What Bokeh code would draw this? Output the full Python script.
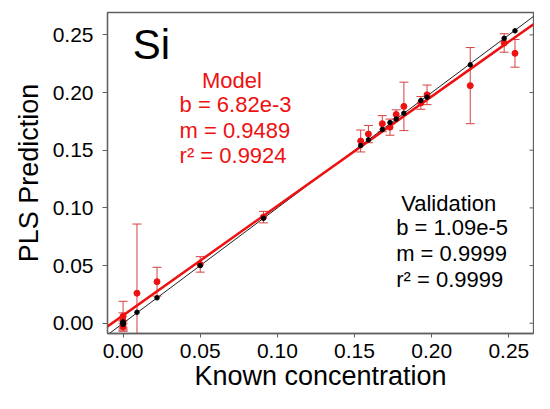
import math
from bokeh.plotting import figure
from bokeh.models import (Range1d, FixedTicker, NumeralTickFormatter,
                          Whisker, ColumnDataSource, TeeHead, Label)
from bokeh.embed import file_html
from bokeh.resources import INLINE

# ---- data ----
known = [0.000, 0.000, 0.000, 0.000, 0.009, 0.022, 0.050, 0.091, 0.154, 0.159,
         0.168, 0.173, 0.177, 0.182, 0.193, 0.197, 0.225, 0.247, 0.254]
model_pred = [0.006, 0.002, -0.001, -0.003, 0.026, 0.036, 0.051, 0.092, 0.158, 0.164,
              0.173, 0.170, 0.181, 0.188, 0.191, 0.198, 0.206, 0.243, 0.234]
model_err = [0.013, 0.007, 0.003, 0.003, 0.060, 0.0125, 0.0067, 0.005, 0.0095, 0.0075,
             0.007, 0.007, 0.004, 0.021, 0.0055, 0.0085, 0.033, 0.008, 0.012]
valid_pred = [0.001, 0.000, 0.001, -0.001, 0.0095, 0.022, 0.050, 0.091, 0.154, 0.159,
              0.168, 0.174, 0.177, 0.182, 0.193, 0.196, 0.224, 0.247, 0.2535]
tick_values = [0.00, 0.05, 0.10, 0.15, 0.20, 0.25]
model_b, model_m, model_r2 = 6.82e-3, 0.9489, 0.9924
valid_b, valid_m, valid_r2 = 1.09e-5, 0.9999, 0.9999
element = "Si"

FONT = "Liberation Sans"
RED = "#ee1111"
ERR = "#d44040"
FRAME = "#606060"

x0, x1 = -0.0101, 0.266
y0, y1 = -0.0089, 0.2694

p = figure(width=534, height=393, output_backend="svg", toolbar_location=None,
           x_range=Range1d(x0, x1), y_range=Range1d(y0, y1),
           min_border_left=107, min_border_right=1, min_border_top=12,
           min_border_bottom=58)
p.xgrid.visible = False
p.ygrid.visible = False
p.outline_line_color = FRAME
p.outline_line_width = 1.3
p.background_fill_color = "white"
p.border_fill_color = "white"

for ax in (p.xaxis[0], p.yaxis[0]):
    ax.ticker = FixedTicker(ticks=tick_values)
    ax.formatter = NumeralTickFormatter(format="0.00")
    ax.major_label_text_font = FONT
    ax.major_label_text_font_size = "21px"
    ax.major_label_text_color = "black"
    ax.axis_label_text_font = FONT
    ax.axis_label_text_font_style = "normal"
    ax.axis_label_text_font_size = "27px"
    ax.axis_label_text_color = "black"
    ax.minor_tick_line_color = None
    ax.major_tick_in = 0
    ax.major_tick_line_color = FRAME
    ax.axis_line_color = FRAME
    ax.axis_line_width = 1.3

p.xaxis.axis_label = "Known concentration"
p.yaxis.axis_label = "PLS Prediction"
p.xaxis.major_tick_out = 4
p.yaxis.major_tick_out = 5
p.xaxis.major_label_standoff = 6
p.xaxis.axis_label_standoff = 0
p.yaxis.major_label_standoff = 9
p.yaxis.axis_label_standoff = 6

# inward tick marks on the right frame edge
p.ray(x=[x1] * len(tick_values), y=tick_values, length=4, length_units="screen",
      angle=math.pi, line_color=FRAME, line_width=1)

# fit lines over the full x range
xs = [x0, x1]
p.line(xs, [valid_b + valid_m * v for v in xs], line_color="#222222", line_width=1)
p.line(xs, [model_b + model_m * v for v in xs], line_color=RED, line_width=2.5)

# error bars
src = ColumnDataSource(dict(
    x=known,
    upper=[a + e for a, e in zip(model_pred, model_err)],
    lower=[a - e for a, e in zip(model_pred, model_err)],
))
p.add_layout(Whisker(source=src, base="x", upper="upper", lower="lower",
                     line_color=ERR, line_width=1,
                     upper_head=TeeHead(size=9, line_color=ERR, line_width=1),
                     lower_head=TeeHead(size=9, line_color=ERR, line_width=1)))

p.scatter(known, model_pred, size=6, fill_color=RED, line_color=RED)
p.scatter(known, valid_pred, size=4.5, fill_color="black", line_color="black")

# annotations
p.add_layout(Label(x=0.0063, y=0.2414, text=element, text_font=FONT,
                   text_font_size="42px", text_color="black",
                   text_baseline="alphabetic", text_align="left"))

model_lines = ["b = %.2fe-3" % (model_b * 1e3), "m = %.4f" % model_m, "r\u00b2 = %.4f" % model_r2]
p.add_layout(Label(x=0.0705, y=0.2108, text="Model", text_font=FONT, text_font_size="22px",
                   text_color=RED, text_baseline="alphabetic", text_align="center"))
for t, yy in zip(model_lines, [0.1895, 0.1674, 0.1452]):
    p.add_layout(Label(x=0.0366, y=yy, text=t, text_font=FONT, text_font_size="22px",
                       text_color=RED, text_baseline="alphabetic", text_align="left"))

valid_lines = ["b = %.2fe-5" % (valid_b * 1e5), "m = %.4f" % valid_m, "r\u00b2 = %.4f" % valid_r2]
p.add_layout(Label(x=0.2110, y=0.1040, text="Validation", text_font=FONT, text_font_size="22px",
                   text_color="black", text_baseline="alphabetic", text_align="center"))
for t, yy in zip(valid_lines, [0.0833, 0.0606, 0.0379]):
    p.add_layout(Label(x=0.1770, y=yy, text=t, text_font=FONT, text_font_size="22px",
                       text_color="black", text_baseline="alphabetic", text_align="left"))

open("out.html", "w").write(file_html(p, INLINE))
